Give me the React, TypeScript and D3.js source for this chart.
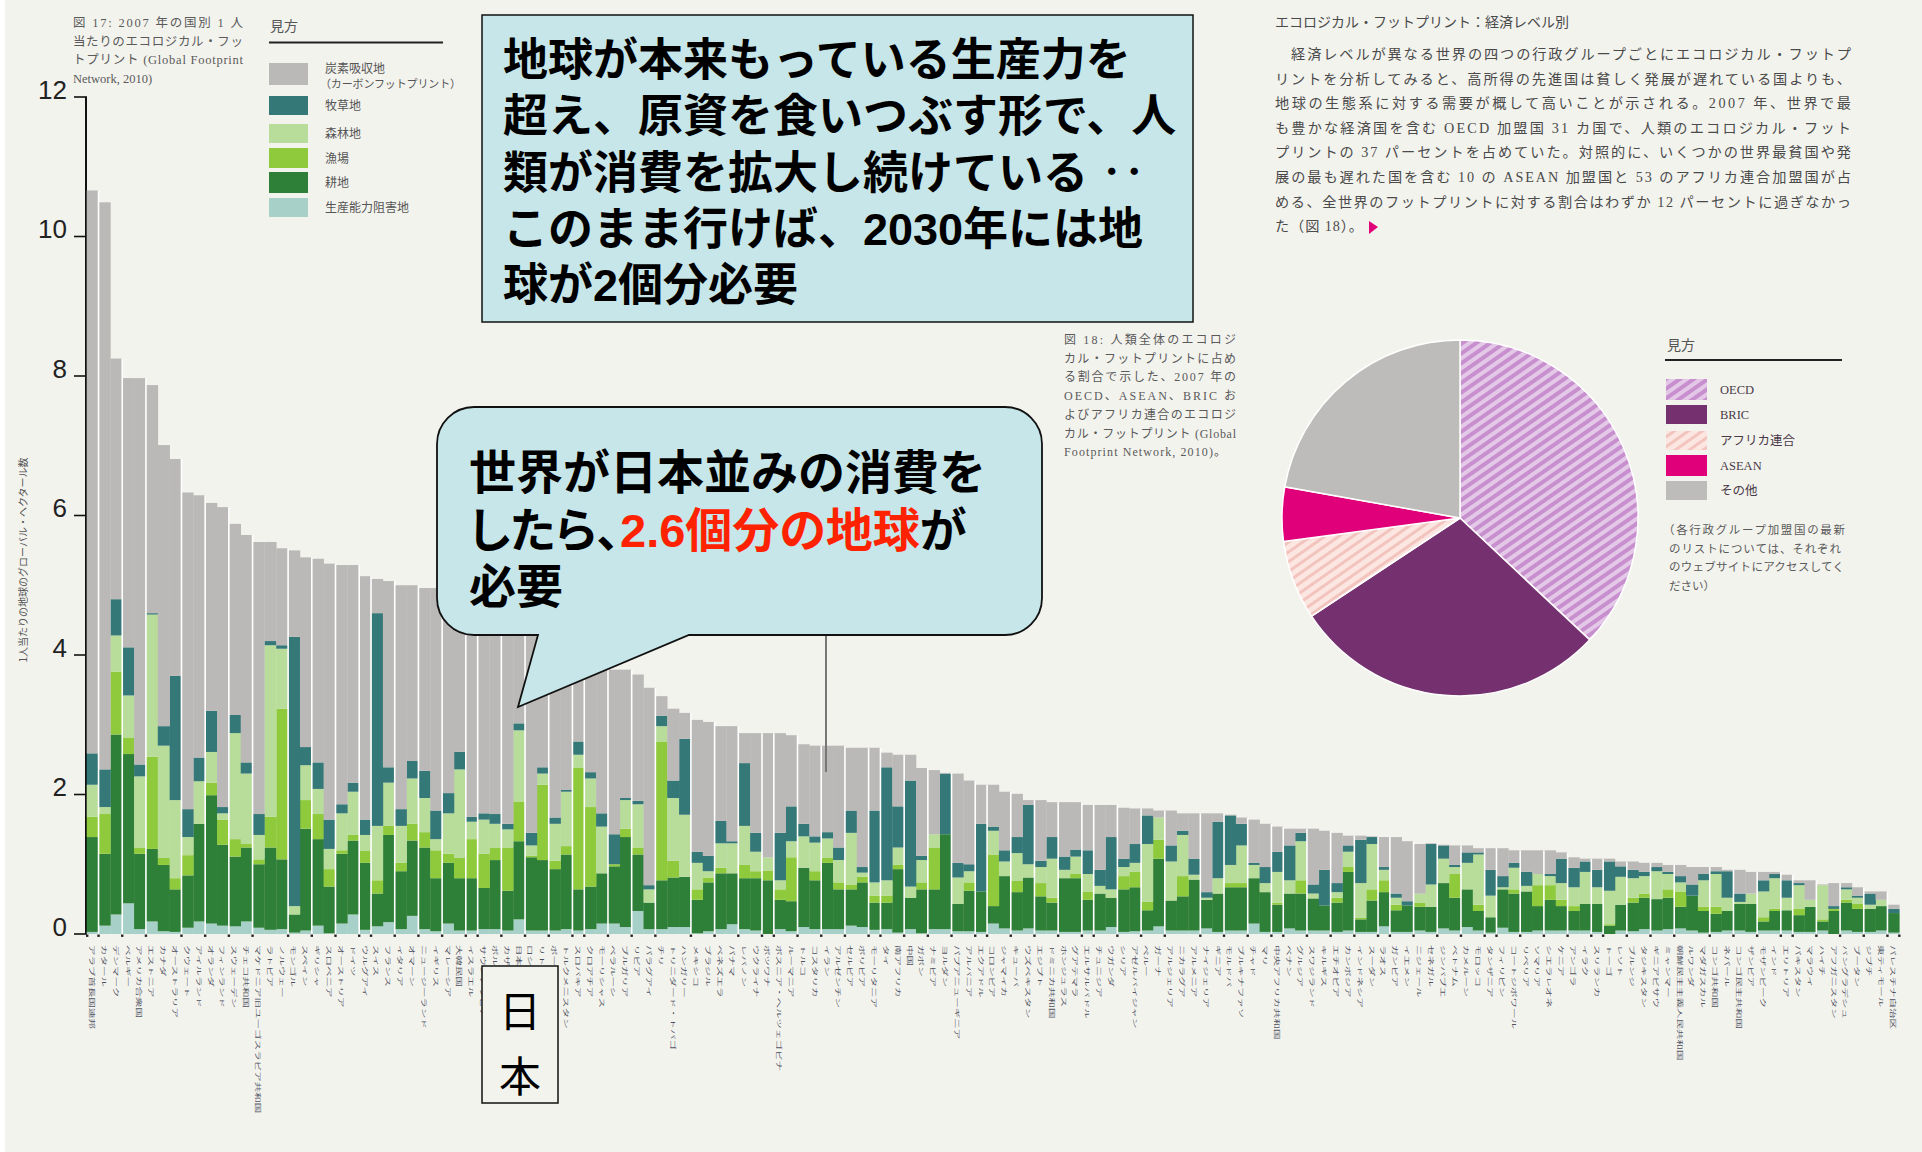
import React from "react";
import * as d3 from "d3";

// ---------------- DATA ----------------
// Countries (Japanese) ordered by per-capita footprint (2007)
const countries = [
  "アラブ首長国連邦","カタール","デンマーク","ベルギー","アメリカ合衆国","エストニア","カナダ","オーストラリア","クウェート","アイルランド",
  "オランダ","フィンランド","スウェーデン","チェコ共和国","マケドニア旧ユーゴスラビア共和国","ラトビア","ノルウェー","モンゴル","スペイン","ギリシャ",
  "スロベニア","オーストリア","ドイツ","ウルグアイ","スイス","フランス","イタリア","オマーン","ニュージーランド","イギリス",
  "マレーシア","大韓民国","イスラエル","サウジアラビア","ポルトガル","カザフスタン","日本","ロシア","リトアニア","ポーランド",
  "トルクメニスタン","スロバキア","クロアチア","モーリシャス","ベラルーシ","ブルガリア","リビア","パラグアイ","チリ","トリニダード・トバゴ",
  "ハンガリー","メキシコ","ブラジル","ベネズエラ","パナマ","レバノン","ウクライナ","ボツワナ","ボスニア・ヘルツェゴビナ","ルーマニア",
  "トルコ","コスタリカ","イラン","アルゼンチン","セルビア","ボリビア","モーリタニア","タイ","南アフリカ","中国",
  "ガボン","ナミビア","ヨルダン","パプアニューギニア","アルバニア","エクアドル","コロンビア","ジャマイカ","キューバ","ウズベキスタン",
  "エジプト","ドミニカ共和国","ホンジュラス","グアテマラ","エルサルバドル","チュニジア","ウガンダ","シリア","アゼルバイジャン","ペルー",
  "ガーナ","アルジェリア","ニカラグア","アルメニア","ナイジェリア","ギニア","モルドバ","ブルキナファソ","チャド","マリ",
  "中央アフリカ共和国","ベナン","グルジア","スワジランド","キルギス","エチオピア","カンボジア","インドネシア","スーダン","ラオス",
  "ガンビア","イエメン","ニジェール","セネガル","ジンバブエ","ベトナム","カメルーン","モロッコ","タンザニア","フィリピン",
  "コートジボワール","リベリア","ソマリア","シエラレオネ","ケニア","アンゴラ","イラク","スリランカ","トーゴ","レソト",
  "ブルンジ","タジキスタン","ギニアビサウ","ミャンマー","朝鮮民主主義人民共和国","ルワンダ","マダガスカル","コンゴ共和国","ネパール","コンゴ民主共和国",
  "ザンビア","モザンビーク","インド","エリトリア","パキスタン","マラウイ","ハイチ","アフガニスタン","バングラデシュ","ブータン",
  "ジブチ","東ティモール","パレスチナ自治区"
];

// Cumulative stack tops (global hectares per person), bottom → top
const builtUpTop = [
  0.03,0.12,0.28,0.44,0.07,0.18,0.04,0.03,0.09,0.18,0.15,0.12,0.11,0.18,0.09,0.06,0.07,0.02,0.05,0.12,0.01,0.15,0.28,0.06,0.11,0.17,0.07,0.26,0.07,0.04,0.15,0.05,0.05,0.07,0.07,
  0.05,0.21,0.05,0.05,0.05,0.07,0.05,0.07,0.15,0.15,0.10,0.33,0.07,0.07,0.10,0.10,0.01,0.04,0.07,0.14,0.07,0.05,0.00,0.07,0.04,0.10,0.07,0.07,0.07,0.12,0.10,0.06,0.07,0.02,0.07,0.01,0.07,0.07,0.04,0.04,
  0.03,0.15,0.08,0.05,0.08,0.05,0.05,0.03,0.03,0.05,0.05,0.10,0.03,0.04,0.05,0.11,0.05,0.05,0.05,0.08,0.03,0.05,0.05,0.15,0.03,0.03,0.08,0.05,0.05,0.05,0.03,0.05,0.03,0.03,0.11,0.03,0.03,0.05,0.03,0.08,0.05,
  0.10,0.05,0.02,0.09,0.03,0.03,0.05,0.05,0.05,0.05,0.05,0.03,0.00,0.05,0.04,0.07,0.05,0.07,0.08,0.05,0.02,0.03,0.05,0.05,0.03,0.05,0.05,0.05,0.03,0.03,0.05,0.00,0.05,0.03,0.03,0.05,0.02
];
const croplandTop = [
  1.39,1.15,2.86,2.58,1.15,1.22,0.99,0.64,0.84,1.58,1.99,1.28,1.11,1.24,1.00,1.24,1.07,0.28,1.51,1.36,0.68,1.15,1.34,1.02,0.58,1.42,0.90,1.34,1.24,0.80,1.02,0.80,0.80,0.66,1.06,
  0.62,1.33,1.10,1.06,0.93,1.14,0.64,0.68,0.87,0.97,1.39,1.14,0.45,0.77,0.81,0.82,0.49,0.74,0.87,0.87,0.80,0.80,0.77,0.49,0.47,0.95,0.77,1.02,0.64,0.64,0.74,0.45,0.45,0.93,0.52,0.64,0.64,1.43,0.43,0.62,
  0.61,0.40,0.83,0.60,0.81,0.54,0.45,0.80,0.80,0.49,0.58,0.52,0.64,0.67,0.34,1.08,0.48,0.54,0.78,0.49,0.58,0.67,0.67,0.80,0.60,0.42,0.58,0.58,0.51,0.41,0.45,0.89,0.21,0.48,0.60,0.34,0.41,0.39,0.39,0.73,0.52,
  0.64,0.33,0.24,0.64,0.58,0.61,0.40,0.49,0.40,0.33,0.43,0.43,0.12,0.42,0.45,0.52,0.50,0.52,0.39,0.55,0.33,0.29,0.33,0.43,0.43,0.18,0.33,0.34,0.27,0.39,0.18,0.33,0.45,0.36,0.36,0.40,0.30
];
const fishingTop = [
  1.68,1.72,3.76,2.81,1.24,2.54,1.09,0.80,1.13,1.58,2.17,1.64,1.36,1.29,1.07,1.68,3.23,0.28,1.92,1.72,0.93,1.20,1.42,1.19,0.77,1.55,1.02,1.58,1.46,1.20,1.15,1.09,1.36,1.15,1.24,
  1.24,1.90,1.12,2.14,1.05,1.26,2.38,1.82,0.87,1.00,1.51,1.24,0.45,2.76,1.05,0.82,0.64,0.81,0.95,0.87,0.99,0.90,0.91,0.64,1.10,0.95,0.90,1.09,0.74,0.71,0.82,0.55,0.55,0.99,0.52,0.74,1.24,1.43,0.43,0.74,
  0.61,1.14,0.83,0.76,0.81,0.73,0.52,0.80,0.86,0.61,0.58,0.52,0.83,0.89,0.46,1.35,0.48,0.83,0.78,0.49,0.58,0.73,0.73,0.80,0.60,0.45,0.58,0.77,0.51,0.41,0.52,0.96,0.23,0.64,0.77,0.42,0.41,0.45,0.39,0.73,0.86,
  0.64,0.42,0.24,0.64,0.64,0.61,0.70,0.70,0.49,0.40,0.43,0.43,0.14,0.42,0.52,0.58,0.50,0.64,0.61,0.55,0.39,0.39,0.33,0.43,0.43,0.24,0.36,0.34,0.36,0.39,0.21,0.36,0.49,0.43,0.36,0.40,0.30
];
const forestTop = [
  2.14,1.82,4.28,3.42,2.26,4.58,2.70,1.92,1.39,2.19,2.61,1.73,2.88,2.30,1.42,4.14,4.09,0.40,2.42,2.08,1.22,1.73,2.04,1.42,1.55,2.17,1.55,2.23,1.95,1.36,1.73,2.36,1.61,1.64,1.58,
  1.50,2.92,1.27,2.30,1.58,2.04,2.57,2.23,1.54,1.00,1.92,1.86,0.64,2.98,1.95,1.71,1.02,0.90,1.30,1.30,1.55,1.18,1.10,0.77,1.33,1.40,1.31,1.37,1.06,1.45,0.88,0.74,0.77,1.24,0.68,1.06,1.43,1.43,0.81,0.90,
  0.61,1.48,1.04,1.16,1.00,0.96,1.08,0.92,1.11,0.86,0.69,0.64,0.96,1.02,1.29,1.67,1.04,1.42,0.85,0.52,0.80,0.99,1.27,0.99,0.73,0.89,0.77,1.33,0.58,0.41,0.60,1.18,0.73,1.29,0.92,0.52,0.41,0.58,0.71,1.08,0.96,
  1.02,1.14,0.55,0.67,0.95,0.69,0.86,0.83,0.73,0.67,0.89,0.67,0.62,0.82,0.80,0.83,0.90,0.86,0.74,0.55,0.77,0.86,0.52,0.46,0.58,0.61,0.80,0.52,0.70,0.49,0.70,0.36,0.64,0.52,0.42,0.49,0.30
];
const grazingTop = [
  2.59,2.36,4.80,4.11,2.43,4.60,2.98,3.70,1.79,2.53,3.20,1.82,3.14,2.46,1.72,4.20,4.14,4.26,2.68,2.46,1.64,1.86,2.17,1.64,4.60,2.39,1.79,2.48,2.34,1.77,2.02,2.61,1.68,1.73,1.72,
  1.58,3.02,1.45,2.39,1.67,2.07,2.76,2.32,1.73,1.43,1.95,1.91,0.70,3.13,2.20,2.80,1.18,1.12,1.62,1.33,2.45,1.45,1.10,1.45,1.83,1.58,1.40,1.46,1.24,1.77,0.96,1.77,2.39,1.83,2.20,1.12,1.43,2.30,1.02,1.00,
  1.58,1.54,1.20,1.39,1.85,1.05,1.39,1.11,1.21,1.20,0.92,1.39,1.08,1.29,1.70,1.67,1.27,1.48,1.08,0.60,1.61,1.70,1.58,1.02,0.96,1.18,1.27,1.45,0.71,0.92,0.73,1.27,1.35,1.39,0.96,0.58,0.47,0.58,1.29,1.27,0.99,
  1.17,1.17,0.92,0.83,1.02,0.89,0.86,0.86,1.08,0.95,1.04,0.92,1.04,0.97,0.92,0.89,0.96,0.89,0.83,0.71,0.86,0.90,0.90,0.58,0.58,0.77,0.86,0.77,0.73,0.49,0.70,0.40,0.67,0.55,0.58,0.49,0.36
];
const totalFootprint = [
  10.66,10.49,8.25,7.97,7.97,7.87,7.01,6.81,6.33,6.29,6.18,6.12,5.88,5.72,5.62,5.62,5.53,5.50,5.40,5.38,5.31,5.29,5.29,5.13,5.09,5.06,5.00,5.00,4.96,4.96,4.93,4.90,4.88,4.86,4.84,
  4.82,4.73,4.60,4.50,4.40,4.30,4.15,4.05,3.90,3.79,3.79,3.72,3.53,3.41,3.23,3.17,3.07,3.04,2.98,2.98,2.88,2.88,2.88,2.88,2.85,2.72,2.70,2.70,2.70,2.67,2.67,2.67,2.60,2.57,2.57,2.38,2.35,2.31,2.30,2.20,
  2.14,2.14,2.04,2.01,1.92,1.92,1.89,1.89,1.89,1.85,1.85,1.85,1.81,1.80,1.80,1.77,1.77,1.73,1.73,1.73,1.73,1.71,1.67,1.64,1.58,1.54,1.51,1.51,1.51,1.48,1.45,1.41,1.41,1.40,1.39,1.39,1.33,1.29,1.30,1.28,1.27,
  1.27,1.23,1.23,1.23,1.20,1.20,1.20,1.20,1.17,1.10,1.08,1.08,1.08,1.04,1.04,1.02,1.02,0.99,0.99,0.96,0.96,0.96,0.92,0.92,0.89,0.89,0.89,0.85,0.77,0.77,0.71,0.73,0.73,0.67,0.61,0.61,0.42
];
// Group boundaries (index of first bar after a tick)
const groupTicks = [1,3,5,8,10,12,14,17,19,21,23,24,26,28,30,32,33,35,37,39,41,42,44,46,48,51,53,55,57,58,60,62,64,66,67,69,71,73,75,76,78,80,82,84,85,87,89,91,94,96,98,100,101,103,105,107,109,110,112,114,116,118,119,121,123,125,127,128,130,132,134,137,139,141,143,144,146,148,150,152,153];

const layerKeys = ["builtUp","cropland","fishing","forest","grazing","carbon"];
const layerNames = ["生産能力阻害地","耕地","漁場","森林地","牧草地","炭素吸収地"];
const layerColors = ["#a7d1c8","#2e7f37","#8fca3c","#b8dd9a","#347877","#bab9b7"];
const yTicks = [0,2,4,6,8,10,12];

const pieGroups = ["OECD","BRIC","アフリカ連合","ASEAN","その他"];
const pieShares = [37, 28.7, 7.2, 4.9, 22.2];
const pieFills = ["url(#hatchOECD)","#74306f","url(#hatchAU)","#e0007a","#bdbcba"];

const W = 1922, H = 1152;
const BG = "#f3f3ee";
const CJK = "'Noto Sans CJK JP', sans-serif";
const SERIFCJK = "'Liberation Serif', 'Noto Sans CJK JP', serif";
const BOLDMIX = "'Liberation Sans', 'Noto Sans CJK JP', sans-serif";

export default function App() {
  const n = totalFootprint.length;
  const tops = [builtUpTop, croplandTop, fishingTop, forestTop, grazingTop, totalFootprint];
  const rows = d3.range(n).map((i) => {
    const r: Record<string, number> = {};
    let prev = 0;
    layerKeys.forEach((k, j) => {
      const t = Math.max(prev, tops[j][i]);
      r[k] = t - prev;
      prev = t;
    });
    return r;
  });
  const series = d3.stack<Record<string, number>>().keys(layerKeys)(rows);

  const x = d3.scaleBand<number>().domain(d3.range(n)).range([86.7, 1899.3]).padding(0);
  const y = d3.scaleLinear().domain([0, 12]).range([934, 97]);
  const step = x.step();

  const pie = d3.pie<number>().sort(null).value((d) => d)(pieShares);
  const arc = d3.arc<d3.PieArcDatum<number>>().innerRadius(0).outerRadius(178);

  const topCaption = ["図 17:  2007 年の国別 1 人", "当たりのエコロジカル・フッ", "トプリント  (Global Footprint", "Network, 2010)"];
  const bodyLines = [
    "　経済レベルが異なる世界の四つの行政グループごとにエコロジカル・フットプ",
    "リントを分析してみると、高所得の先進国は貧しく発展が遅れている国よりも、",
    "地球の生態系に対する需要が概して高いことが示される。2007 年、世界で最",
    "も豊かな経済国を含む OECD 加盟国 31 カ国で、人類のエコロジカル・フット",
    "プリントの 37 パーセントを占めていた。対照的に、いくつかの世界最貧国や発",
    "展の最も遅れた国を含む 10 の ASEAN 加盟国と 53 のアフリカ連合加盟国が占",
    "める、全世界のフットプリントに対する割合はわずか 12 パーセントに過ぎなかっ",
  ];
  const pieCaption = ["図 18:  人類全体のエコロジ", "カル・フットプリントに占め", "る割合で示した、2007 年の", "OECD、ASEAN、BRIC お", "よびアフリカ連合のエコロジ", "カル・フットプリント  (Global", "Footprint Network, 2010)。"];
  const pieNote = ["（各行政グループ加盟国の最新", "のリストについては、それぞれ", "のウェブサイトにアクセスしてく", "ださい）"];
  const pieNoteLen = [182, 172, 175, 0];
  const callout1 = ["地球が本来もっている生産力を", "超え、原資を食いつぶす形で、人", "類が消費を拡大し続けている ‥", "このまま行けば、2030年には地", "球が2個分必要"];

  // callout 2 outline with pointer
  const c2 = { x0: 437, y0: 407, x1: 1042, y1: 635, r: 37, p1: 538, p2: 689, tx: 518, ty: 707 };
  const c2Path = `M${c2.x0 + c2.r},${c2.y0} H${c2.x1 - c2.r} A${c2.r},${c2.r} 0 0 1 ${c2.x1},${c2.y0 + c2.r} V${c2.y1 - c2.r} A${c2.r},${c2.r} 0 0 1 ${c2.x1 - c2.r},${c2.y1} H${c2.p2} L${c2.tx},${c2.ty} L${c2.p1},${c2.y1} H${c2.x0 + c2.r} A${c2.r},${c2.r} 0 0 1 ${c2.x0},${c2.y1 - c2.r} V${c2.y0 + c2.r} A${c2.r},${c2.r} 0 0 1 ${c2.x0 + c2.r},${c2.y0} Z`;

  const legendY = [63, 96, 124, 148, 172, 198];
  const legendH = [22, 19, 19, 20, 21, 19];
  const legendOrder = [5, 4, 3, 2, 1, 0];

  return (
    <div style={{ position: "absolute", left: 0, top: 0, width: W, height: H, overflow: "hidden" }}>
      <svg width={W} height={H} viewBox={`0 0 ${W} ${H}`} style={{ display: "block" }}>
        <defs>
          <pattern id="hatchOECD" patternUnits="userSpaceOnUse" width="8" height="8" patternTransform="rotate(-35)">
            <rect width="8" height="8" fill="#e4c8e7" />
            <rect width="8" height="4" fill="#c88fce" />
          </pattern>
          <pattern id="hatchAU" patternUnits="userSpaceOnUse" width="8" height="8" patternTransform="rotate(-35)">
            <rect width="8" height="8" fill="#fbe6e2" />
            <rect width="8" height="3" fill="#f3c4be" />
          </pattern>
        </defs>
        <rect x={0} y={0} width={W} height={H} fill={BG} />
        <rect x={0} y={0} width={5} height={H} fill="#ffffff" />

        {/* ---------- top-left caption ---------- */}
        <g fontFamily={SERIFCJK} fontSize={12.5} fill="#5a5a5a">
          {topCaption.map((t, i) => (
            <text key={i} x={73} y={27 + i * 18.5} textLength={i < 3 ? 170 : undefined} lengthAdjust="spacing">{t}</text>
          ))}
        </g>

        {/* ---------- bar legend ---------- */}
        <text x={270} y={31} fontFamily={CJK} fontSize={14} fill="#555">見方</text>
        <line x1={269} x2={443} y1={42.5} y2={42.5} stroke="#222" strokeWidth={2} />
        {legendOrder.map((li, k) => (
          <g key={li}>
            <rect x={269} y={legendY[k]} width={39} height={legendH[k]} fill={layerColors[li]} />
            <text x={325} y={legendY[k] + (k === 0 ? 10 : legendH[k] / 2 + 4.5)} fontFamily={CJK} fontSize={12} fill="#555">{layerNames[li]}</text>
          </g>
        ))}
        <text x={320} y={88} fontFamily={CJK} fontSize={11} fill="#555" textLength={141} lengthAdjust="spacing">（カーボンフットプリント）</text>

        {/* ---------- y axis ---------- */}
        <line x1={86} x2={86} y1={y(12)} y2={y(0)} stroke="#111" strokeWidth={2} />
        {yTicks.map((t) => (
          <g key={t}>
            <line x1={74} x2={87} y1={y(t)} y2={y(t)} stroke="#111" strokeWidth={1.6} />
            <text x={67} y={y(t) + 1.5} textAnchor="end" fontFamily="'Liberation Sans', Arial, sans-serif" fontSize={26} fill="#222">{t}</text>
          </g>
        ))}
        <text transform={`translate(27,560) rotate(-90)`} textAnchor="middle" fontFamily={CJK} fontSize={10} fill="#555">1人当たりの地球のグローバル・ヘクタール数</text>

        {/* ---------- stacked bars ---------- */}
        {series.map((s, j) => (
          <g key={s.key} fill={layerColors[j]}>
            {s.map((d, i) => (
              <rect key={i} x={x(i)!} y={y(d[1])} width={step + 0.3} height={Math.max(0, y(d[0]) - y(d[1]))} />
            ))}
          </g>
        ))}
        {/* group separators and ticks */}
        {groupTicks.map((b) => {
          const xx = (x(b - 1) as number) + step;
          const hi = Math.max(totalFootprint[b - 1] ?? 0, totalFootprint[b] ?? 0);
          return (
            <g key={b}>
              {b < n && <rect x={xx - 0.8} y={y(hi)} width={1.6} height={y(0) - y(hi)} fill="#ffffff" />}
              <rect x={xx - 1.2} y={y(0) + 0.5} width={2.4} height={2.4} fill="#222" />
            </g>
          );
        })}
        <rect x={86} y={y(0) + 0.5} width={2.4} height={2.4} fill="#222" />

        {/* ---------- country labels ---------- */}
        <g fontFamily={CJK} fontSize={10.5} fill="#4d5060">
          {countries.slice(0, n).map((c, i) => (
            <text key={i} transform={`translate(${(x(i) as number) + step / 2},945) rotate(90) scale(1,0.5)`} dominantBaseline="central">{c}</text>
          ))}
        </g>

        {/* ---------- pie ---------- */}
        <g transform="translate(1460,518)">
          {pie.map((p, i) => (
            <path key={i} d={arc(p)!} fill={pieFills[i]} stroke="#ffffff" strokeWidth={1.5} />
          ))}
        </g>
        {/* pie legend */}
        <text x={1667} y={350} fontFamily={CJK} fontSize={14} fill="#555">見方</text>
        <line x1={1665} x2={1842} y1={360} y2={360} stroke="#222" strokeWidth={2} />
        {pieGroups.map((g, i) => {
          const ys = [379, 405, 431, 455, 481];
          const hs = [21, 19, 19, 21, 19];
          return (
            <g key={g}>
              <rect x={1666} y={ys[i]} width={41} height={hs[i]} fill={pieFills[i]} />
              <text x={1720} y={ys[i] + hs[i] / 2 + 4.5} fontFamily={SERIFCJK} fontSize={12.5} fill="#4a3a48">{g}</text>
            </g>
          );
        })}
        <g fontFamily={CJK} fontSize={11.5} fill="#5a5a5a">
          {pieNote.map((t, i) => (
            <text key={i} x={i === 0 ? 1663 : 1669} y={534 + i * 18.5} textLength={pieNoteLen[i] || undefined} lengthAdjust="spacing">{t}</text>
          ))}
        </g>
        <g fontFamily={SERIFCJK} fontSize={12} fill="#5a5a5a">
          {pieCaption.map((t, i) => (
            <text key={i} x={1064} y={344 + i * 18.7} textLength={i < 6 ? 172 : 162} lengthAdjust="spacing">{t}</text>
          ))}
        </g>

        {/* ---------- top-right text ---------- */}
        <text x={1275} y={27} fontFamily={SERIFCJK} fontSize={14} fill="#4a4a4a" textLength={294} lengthAdjust="spacing">エコロジカル・フットプリント：経済レベル別</text>
        <g fontFamily={SERIFCJK} fontSize={14.2} fill="#4a4a4a">
          {bodyLines.map((t, i) => (
            <text key={i} x={1275} y={59 + i * 24.6} textLength={576} lengthAdjust="spacing">{t}</text>
          ))}
          <text x={1275} y={59 + 7 * 24.6} textLength={88} lengthAdjust="spacing">た（図 18）。</text>
        </g>
        <path d="M1369,221 L1378,227 L1369,234 Z" fill="#e0007a" />

        {/* ---------- callout 1 ---------- */}
        <rect x={482} y={15} width={711} height={307} fill="#c6e6e9" stroke="#111" strokeWidth={1.5} />
        <g fontFamily={BOLDMIX} fontWeight="bold" fontSize={45} fill="#000">
          {callout1.map((t, i) => (
            <text key={i} x={503} y={76 + i * 56.3}>{t}</text>
          ))}
        </g>

        {/* ---------- leader line ---------- */}
        <line x1={826} x2={826} y1={635} y2={772} stroke="#777" strokeWidth={2} />

        {/* ---------- callout 2 ---------- */}
        <path d={c2Path} fill="#c6e6e9" stroke="#111" strokeWidth={1.8} />
        <g fontFamily={BOLDMIX} fontWeight="bold" fontSize={47} fill="#000">
          <text x={469} y={489}>世界が日本並みの消費を</text>
          <text x={469} y={547} style={{ fontFeatureSettings: "'palt'" }}>したら、<tspan fill="#ff2200">2.6個分の地球</tspan>が</text>
          <text x={469} y={603}>必要</text>
        </g>

        {/* ---------- Japan label box ---------- */}
        <rect x={482} y={966} width={76} height={137} fill={BG} stroke="#111" strokeWidth={1.5} />
        <g fontFamily={CJK} fontSize={42} fill="#000" textAnchor="middle">
          <text x={520} y={1027}>日</text>
          <text x={520} y={1092}>本</text>
        </g>
      </svg>
    </div>
  );
}
